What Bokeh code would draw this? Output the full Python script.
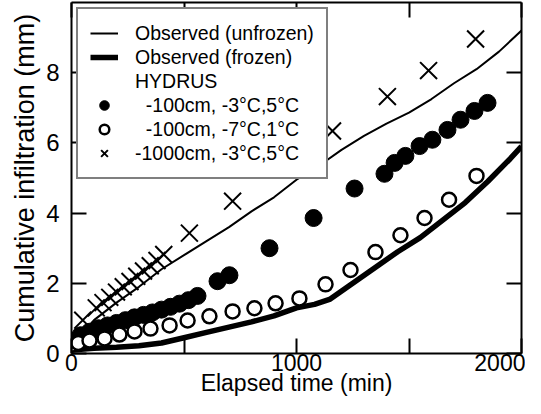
from bokeh.plotting import figure
from bokeh.models import LinearAxis, FixedTicker, Legend, LegendItem, Range1d
from bokeh.embed import file_html
from bokeh.resources import INLINE

# ---- data ----
unfrozen_t = [0, 50, 100, 200, 300, 400, 500, 600, 700, 800, 900, 1000, 1100,
              1200, 1300, 1400, 1500, 1600, 1700, 1800, 1900, 2000]
unfrozen_v = [0.15, 0.6, 0.95, 1.45, 1.9, 2.4, 2.8, 3.2, 3.6, 4.05, 4.45, 4.95,
              5.35, 5.8, 6.2, 6.55, 6.86, 7.25, 7.7, 8.1, 8.6, 9.2]

frozen_t = [0, 100, 200, 300, 400, 500, 600, 700, 800, 900, 1000, 1080, 1150,
            1250, 1350, 1450, 1550, 1650, 1750, 1850, 1950, 2000]
frozen_v = [0.1, 0.15, 0.18, 0.22, 0.3, 0.45, 0.6, 0.75, 0.9, 1.07, 1.3, 1.4,
            1.55, 2.0, 2.45, 2.9, 3.3, 3.8, 4.3, 4.9, 5.55, 5.9]

filled_t = [0, 40, 80, 120, 160, 200, 240, 280, 320, 360, 400, 440, 480, 520,
            560, 649, 702, 880, 1076, 1258, 1391, 1436, 1484, 1547, 1604, 1671,
            1729, 1791, 1849]
filled_v = [0.35, 0.52, 0.62, 0.72, 0.8, 0.87, 0.95, 1.03, 1.1, 1.17, 1.25,
            1.33, 1.42, 1.52, 1.64, 2.06, 2.23, 3.0, 3.86, 4.7, 5.12, 5.43,
            5.63, 5.91, 6.09, 6.37, 6.66, 6.91, 7.14]

open_t = [0, 30, 80, 147, 213, 280, 351, 436, 516, 613, 716, 813, 907, 1013,
          1129, 1240, 1351, 1462, 1569, 1678, 1800]
open_v = [0.25, 0.3, 0.37, 0.43, 0.54, 0.63, 0.71, 0.8, 0.94, 1.06, 1.2, 1.29,
          1.43, 1.57, 1.97, 2.38, 2.89, 3.37, 3.86, 4.38, 5.06]

cross_t = [50, 110, 140, 170, 200, 230, 260, 290, 320, 350, 380, 410, 524, 716,
           924, 1160, 1404, 1587, 1796]
cross_v = [0.95, 1.3, 1.45, 1.6, 1.75, 1.9, 2.05, 2.2, 2.35, 2.5, 2.65, 2.82,
           3.43, 4.34, 5.23, 6.34, 7.32, 8.06, 8.96]

x_ticks = [0, 1000, 2000]
x_minor = [500, 1500]
y_ticks = [0, 2, 4, 6, 8]

labels = ["Observed (unfrozen)", "Observed (frozen)", "HYDRUS",
          "\u00a0\u00a0-100cm, -3°C,5°C", "\u00a0\u00a0-100cm, -7°C,1°C",
          "-1000cm, -3°C,5°C"]

FONT = "Liberation Sans"

p = figure(width=525, height=398, output_backend="svg", toolbar_location=None,
           x_range=Range1d(0, 2000), y_range=Range1d(0, 10),
           min_border_left=71, min_border_right=4, min_border_top=2,
           min_border_bottom=0,
           x_axis_label="Elapsed time (min)",
           y_axis_label="Cumulative infiltration (mm)")
p.grid.visible = False
p.outline_line_color = None
p.background_fill_color = "white"


def style(ax):
    ax.axis_line_color = "black"
    ax.axis_line_width = 2
    ax.major_tick_in = 15
    ax.major_tick_out = 0
    ax.minor_tick_in = 15
    ax.minor_tick_out = 0
    ax.major_tick_line_color = "black"
    ax.minor_tick_line_color = "black"
    ax.major_tick_line_width = 2
    ax.minor_tick_line_width = 2
    ax.major_label_text_font = FONT
    ax.major_label_text_color = "black"
    ax.axis_label_text_font = FONT
    ax.axis_label_text_font_style = "normal"
    ax.axis_label_text_color = "black"


def bare(ax):
    ax.major_label_text_font_size = "0px"
    ax.major_label_text_color = None
    ax.major_label_standoff = 0
    ax.axis_label = None


xa = p.xaxis[0]
xa.ticker = FixedTicker(ticks=x_ticks, minor_ticks=x_minor)
style(xa)
xa.major_label_text_font_size = "23px"
xa.major_label_standoff = 0
xa.axis_label_text_font_size = "23px"
xa.axis_label_standoff = -4

ya = p.yaxis[0]
ya.ticker = FixedTicker(ticks=y_ticks)
style(ya)
ya.major_label_text_font_size = "24px"
ya.major_label_standoff = 12
ya.axis_label_text_font_size = "27px"
ya.axis_label_standoff = 3

top = LinearAxis(ticker=FixedTicker(ticks=x_ticks, minor_ticks=x_minor))
style(top)
bare(top)
p.add_layout(top, "above")

right = LinearAxis(ticker=FixedTicker(ticks=y_ticks))
style(right)
bare(right)
p.add_layout(right, "right")

r_unf = p.line(unfrozen_t, unfrozen_v, line_color="black", line_width=2)
r_fro = p.line(frozen_t, frozen_v, line_color="black", line_width=5.5)
r_hyd = p.line([], [], line_alpha=0)
r_fil = p.scatter(filled_t, filled_v, marker="circle", size=17,
                  fill_color="black", line_color="black", line_width=1)
r_opn = p.scatter(open_t, open_v, marker="circle", size=14,
                  fill_color="white", line_color="black", line_width=2.5)
r_crs = p.scatter(cross_t, cross_v, marker="x", size=24,
                  line_color="black", line_width=2)

items = [LegendItem(label=lab, renderers=[r])
         for lab, r in zip(labels, [r_unf, r_fro, r_hyd, r_fil, r_opn, r_crs])]
legend = Legend(items=items, location="top_left", margin=5, padding=12,
                spacing=0, glyph_width=28, glyph_height=24,
                label_standoff=17, label_width=179, label_height=24,
                label_text_font=FONT, label_text_font_size="19.5px",
                label_text_color="black",
                border_line_color="black", border_line_width=2,
                background_fill_color="white", background_fill_alpha=1.0)
p.add_layout(legend)

open("out.html", "w").write(file_html(p, INLINE))
